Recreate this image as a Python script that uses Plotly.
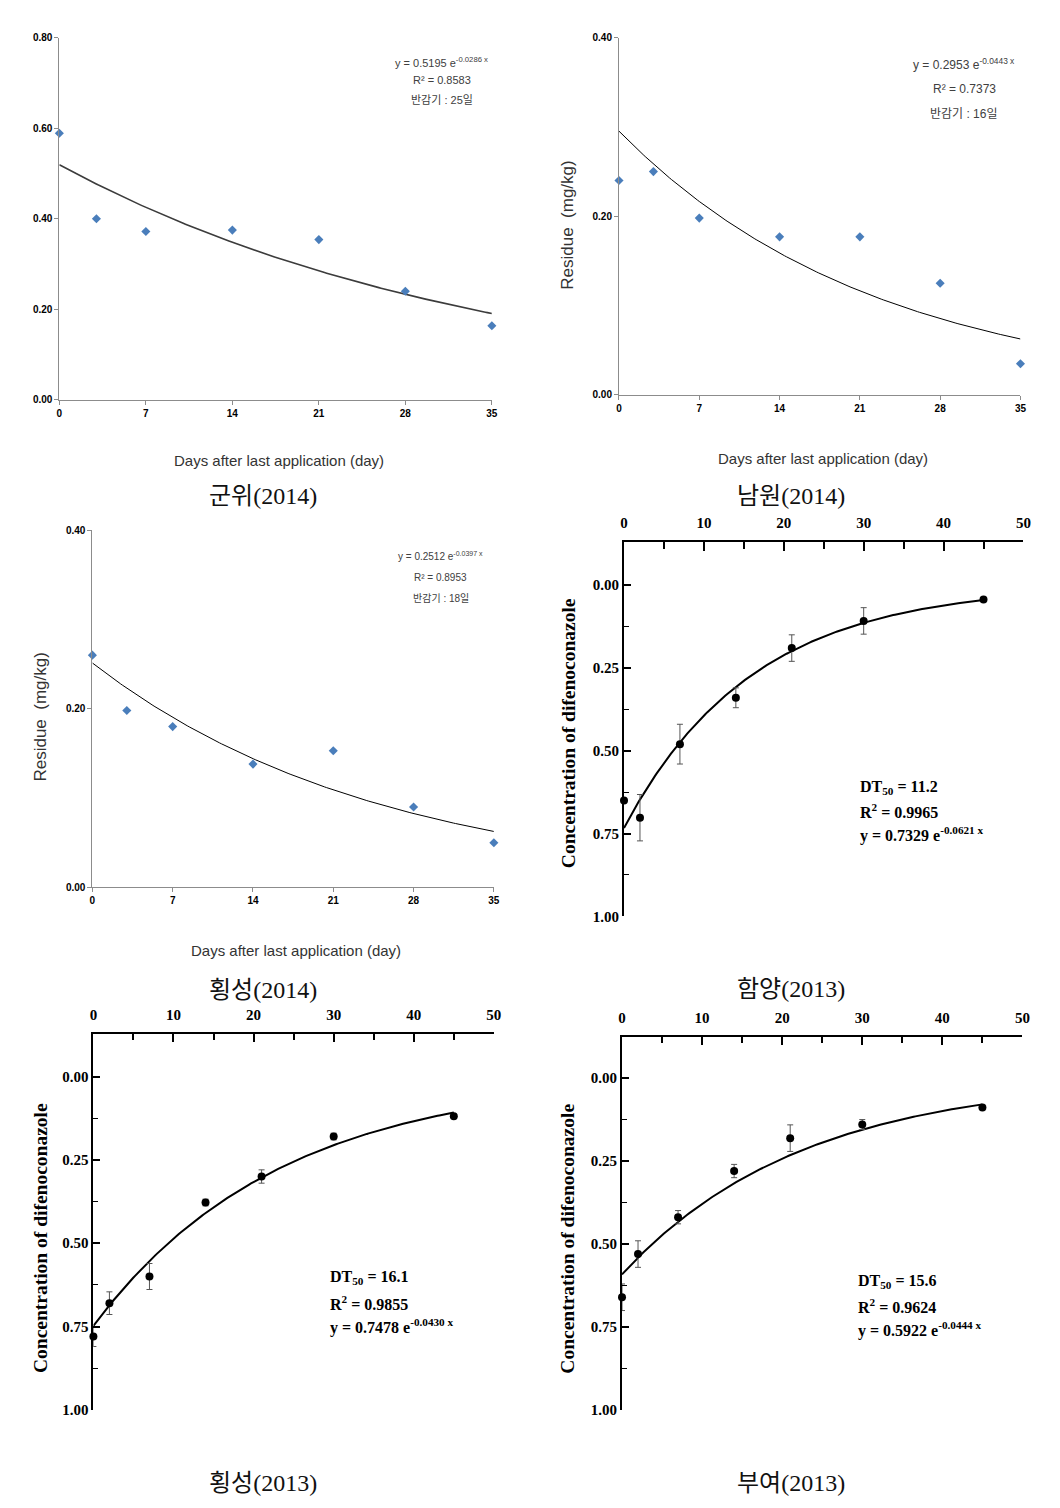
import numpy as np
import plotly.graph_objects as go

W, H = 1060, 1508

# ---------------- data ----------------
days_2014 = [0, 3, 7, 14, 21, 28, 35]
gunwi_2014 = [0.589, 0.400, 0.372, 0.375, 0.354, 0.240, 0.164]
namwon_2014 = [0.240, 0.250, 0.198, 0.177, 0.177, 0.125, 0.035]
hoeng_2014 = [0.260, 0.198, 0.180, 0.138, 0.153, 0.090, 0.050]

fit_2014 = {"gunwi": (0.5195, 0.0286), "namwon": (0.2953, 0.0443), "hoeng": (0.2512, 0.0397)}
r2_2014 = {"gunwi": "0.8583", "namwon": "0.7373", "hoeng": "0.8953"}
half_2014 = {"gunwi": "25", "namwon": "16", "hoeng": "18"}

days_2013 = [0, 2, 7, 14, 21, 30, 45]
hamyang_2013 = [0.650, 0.702, 0.480, 0.340, 0.190, 0.108, 0.043]
hamyang_err = [0.0, 0.07, 0.06, 0.03, 0.04, 0.04, 0.0]
hoeng_2013 = [0.780, 0.680, 0.600, 0.378, 0.300, 0.180, 0.119]
hoeng_err = [0.03, 0.034, 0.039, 0.01, 0.02, 0.01, 0.0]
buyeo_2013 = [0.661, 0.531, 0.420, 0.281, 0.182, 0.141, 0.090]
buyeo_err = [0.04, 0.04, 0.02, 0.02, 0.04, 0.015, 0.0]

fit_2013 = {"hamyang": (0.7329, 0.0621), "hoeng": (0.7478, 0.0430), "buyeo": (0.5922, 0.0444)}
r2_2013 = {"hamyang": "0.9965", "hoeng": "0.9855", "buyeo": "0.9624"}
dt50_2013 = {"hamyang": "11.2", "hoeng": "16.1", "buyeo": "15.6"}

captions = ["군위(2014)", "남원(2014)", "횡성(2014)", "함양(2013)", "횡성(2013)", "부여(2013)"]
x_ticks_2014 = [0, 7, 14, 21, 28, 35]
x_ticks_2013 = [0, 10, 20, 30, 40, 50]
y_ticks_2013 = [0.0, 0.25, 0.5, 0.75, 1.0]

# ---------------- helpers ----------------
# target pixel positions -> paper fraction (compensating the capture scaling)
SX, OX = 0.9885, 3.7
SY, OY = 0.9905, 5.4

def px(x):
    return ((x - OX) / SX) / W

def py(y):
    return 1 - ((y - OY) / SY) / H

fig = go.Figure()
annotations = []

BLUE = "#4A7EBB"
SANS = "Liberation Sans, Arial, sans-serif"
SERIF = "Liberation Serif, Times New Roman, serif"
KR = "Noto Sans CJK KR"

# panel geometry in pixels: (x0 px, x1 px, ybottom px, ytop px)
top_panels = [
    ("gunwi", gunwi_2014, (59, 491, 400, 38), [0, 0.8], 1, 1.6, "#3c3c3c"),
    ("namwon", namwon_2014, (618, 1019, 395, 38), [0, 0.4], 2, 1.0, "#000000"),
    ("hoeng", hoeng_2014, (92, 493, 887, 530), [0, 0.4], 3, 1.0, "#000000"),
]

for key, vals, (x0, x1, yb, yt), yr, idx, lw, lc in top_panels:
    xa = "x" if idx == 1 else f"x{idx}"
    ya = "y" if idx == 1 else f"y{idx}"
    a, k = fit_2014[key]
    xs = np.linspace(0, 35, 200)
    fig.add_trace(go.Scatter(x=xs, y=a * np.exp(-k * xs), mode="lines",
                             line=dict(color=lc, width=lw), xaxis=xa, yaxis=ya,
                             showlegend=False, hoverinfo="skip", cliponaxis=False))
    fig.add_trace(go.Scatter(x=days_2014, y=vals, mode="markers",
                             marker=dict(symbol="diamond", color=BLUE, size=7),
                             xaxis=xa, yaxis=ya, showlegend=False, cliponaxis=False))
    xname = "xaxis" if idx == 1 else f"xaxis{idx}"
    yname = "yaxis" if idx == 1 else f"yaxis{idx}"
    fig.layout[xname] = dict(domain=[px(x0), px(x1)], range=[0, 35], anchor=ya,
                             tickvals=x_ticks_2014, ticks="outside", ticklen=4,
                             tickcolor="#8c8c8c", showline=True, linecolor="#8c8c8c",
                             linewidth=1, showgrid=False, zeroline=False,
                             tickfont=dict(family=SANS, size=10, color="#000", weight="bold"))
    fig.layout[yname] = dict(domain=[py(yb), py(yt)], range=yr, anchor=xa,
                             dtick=0.2, tickformat=".2f", ticks="outside", ticklen=4,
                             tickcolor="#8c8c8c", showline=True, linecolor="#8c8c8c",
                             linewidth=1, showgrid=False, zeroline=False,
                             tickfont=dict(family=SANS, size=10, color="#000", weight="bold"))

# top panel equation texts
eq_pos = {"gunwi": (441, [62, 80, 100], 11), "namwon": (963, [64, 89, 114], 12),
          "hoeng": (440, [556, 577, 598], 10)}
for key, (cx, ys, fs) in eq_pos.items():
    a, k = fit_2014[key]
    lines = [f"y = {a:.4f} e<sup>-{k:.4f} x</sup>", f"R² = {r2_2014[key]}",
             f"반감기 : {half_2014[key]}일"]
    for t, yy in zip(lines, ys):
        annotations.append(dict(x=px(cx), y=py(yy), xref="paper", yref="paper", text=t,
                                showarrow=False, xanchor="center", yanchor="middle",
                                font=dict(family=f"{SANS}, {KR}", size=fs, color="#404040")))

# x-axis titles for top panels
for cx, cy in [(278, 460), (822, 458), (295, 950)]:
    annotations.append(dict(x=px(cx), y=py(cy), xref="paper", yref="paper",
                            text="Days after last application (day)", showarrow=False,
                            xanchor="center", yanchor="middle",
                            font=dict(family=SANS, size=15, color="#333")))
# y-axis titles "Residue (mg/kg)"
for cx, cy in [(567, 225), (40, 717)]:
    annotations.append(dict(x=px(cx), y=py(cy), xref="paper", yref="paper",
                            text="Residue  (mg/kg)", showarrow=False, textangle=-90,
                            xanchor="center", yanchor="middle",
                            font=dict(family=SANS, size=17, color="#333")))

# ---------------- bottom (flipped) panels ----------------
bottom_panels = [
    ("hamyang", hamyang_2013, hamyang_err, (623, 1022, 916, 542), [1.0, -0.13], 4, (857, [787, 811, 834]), (567, 733)),
    ("hoeng", hoeng_2013, hoeng_err, (93, 493, 1409, 1033), [1.0, -0.129], 5, (327, [1277, 1302, 1326]), (40, 1237)),
    ("buyeo", buyeo_2013, buyeo_err, (621, 1021, 1409, 1036), [1.0, -0.124], 6, (855, [1281, 1305, 1329]), (567, 1238)),
]
for key, vals, errs, (x0, x1, yb, yt), yr, idx, (ex, eys), (tx, ty) in bottom_panels:
    xa, ya = f"x{idx}", f"y{idx}"
    a, k = fit_2013[key]
    xs = np.linspace(0, 45, 200)
    fig.add_trace(go.Scatter(x=xs, y=a * np.exp(-k * xs), mode="lines",
                             line=dict(color="#000", width=2), xaxis=xa, yaxis=ya,
                             showlegend=False, hoverinfo="skip", cliponaxis=False))
    fig.add_trace(go.Scatter(x=days_2013, y=vals, mode="markers",
                             marker=dict(symbol="circle", color="#000", size=8),
                             error_y=dict(type="data", array=errs, color="#555", thickness=1, width=3),
                             xaxis=xa, yaxis=ya, showlegend=False, cliponaxis=False))
    fig.layout[f"xaxis{idx}"] = dict(domain=[px(x0), px(x1)], range=[0, 50], anchor=ya,
                                     side="top", tickvals=x_ticks_2013, ticks="inside",
                                     ticklen=9, tickwidth=1.5, tickcolor="#000",
                                     minor=dict(dtick=10, tick0=5, ticks="inside", ticklen=7,
                                                tickwidth=1.5, tickcolor="#000"),
                                     showline=True, linecolor="#000", linewidth=1.8,
                                     showgrid=False, zeroline=False, ticklabelstandoff=6,
                                     tickfont=dict(family=SERIF, size=15, color="#000", weight="bold"))
    fig.layout[f"yaxis{idx}"] = dict(domain=[py(yb), py(yt)], range=yr, anchor=xa,
                                     tickvals=y_ticks_2013, tickformat=".2f", ticks="inside",
                                     ticklen=7, tickwidth=1.5, tickcolor="#000",
                                     minor=dict(tickvals=[0.125, 0.375, 0.625, 0.875], ticks="inside",
                                                ticklen=5, tickwidth=1.2, tickcolor="#000"),
                                     showline=True, linecolor="#000", linewidth=1.8,
                                     showgrid=False, zeroline=False,
                                     tickfont=dict(family=SERIF, size=15, color="#000", weight="bold"))
    lines = [f"DT<sub>50</sub> = {dt50_2013[key]}", f"R<sup>2</sup> = {r2_2013[key]}",
             f"y = {a:.4f} e<sup>-{k:.4f} x</sup>"]
    for t, yy in zip(lines, eys):
        annotations.append(dict(x=px(ex), y=py(yy), xref="paper", yref="paper", text=t,
                                showarrow=False, xanchor="left", yanchor="middle",
                                font=dict(family=SERIF, size=16, color="#000", weight="bold")))
    annotations.append(dict(x=px(tx), y=py(ty), xref="paper", yref="paper",
                            text="Concentration of difenoconazole", showarrow=False, textangle=-90,
                            xanchor="center", yanchor="middle",
                            font=dict(family=SERIF, size=19.5, color="#000", weight="bold")))

# captions
for t, (cx, cy) in zip(captions, [(262, 496), (790, 496), (262, 990), (790, 989), (262, 1482), (790, 1482)]):
    annotations.append(dict(x=px(cx), y=py(cy), xref="paper", yref="paper", text=t,
                            showarrow=False, xanchor="center", yanchor="middle",
                            font=dict(family=f"{SERIF}, {KR}", size=24, color="#111")))

fig.update_layout(width=W, height=H, margin=dict(l=0, r=0, t=0, b=0),
                  paper_bgcolor="white", plot_bgcolor="white", showlegend=False,
                  annotations=annotations)

fig.write_html("out.html", config={"displayModeBar": False},
               post_script="document.body.style.margin='0';document.body.style.overflow='hidden';")
